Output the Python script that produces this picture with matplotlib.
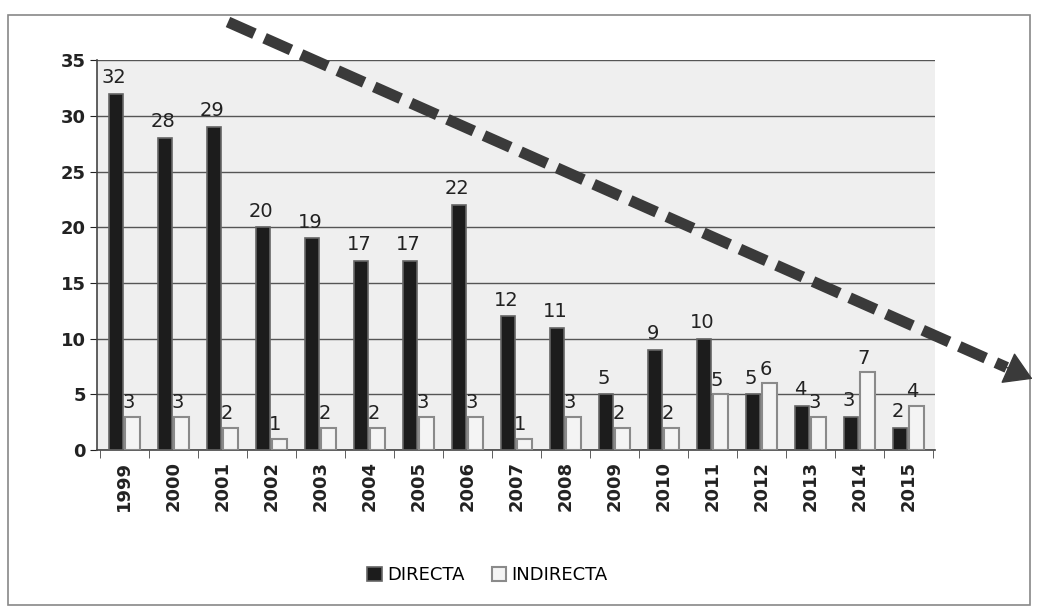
import matplotlib
matplotlib.use("Agg")
import matplotlib.pyplot as plt
import numpy as np
from matplotlib.patches import Rectangle, FancyArrowPatch
from matplotlib.lines import Line2D

years = [str(y) for y in range(1999, 2016)]
directa = [32, 28, 29, 20, 19, 17, 17, 22, 12, 11, 5, 9, 10, 5, 4, 3, 2]
indirecta = [3, 3, 2, 1, 2, 2, 3, 3, 1, 3, 2, 2, 5, 6, 3, 7, 4]

fig = plt.figure(figsize=(10.37, 6.14), dpi=100)
fig.patch.set_facecolor("white")
# outer frame
fig.add_artist(Rectangle((0.008, 0.015), 0.985, 0.96, transform=fig.transFigure,
                         fill=False, edgecolor="#888888", lw=1.2))

ax = fig.add_axes([0.094, 0.267, 0.808, 0.635])
ax.set_facecolor("#efefef")
x = np.arange(len(years))
w = 0.3
b1 = ax.bar(x - w / 2 - 0.02, directa, w, color="#1c1c1c", edgecolor="#666666", lw=1.2,
            label="DIRECTA", zorder=3)
b2 = ax.bar(x + w / 2 + 0.02, indirecta, w, color="#f4f4f4", edgecolor="#8a8a8a", lw=1.5,
            label="INDIRECTA", zorder=3)
for xi, v in zip(x, directa):
    ax.text(xi - w / 2 - 0.06, v + 0.6, str(v), ha="center", va="bottom",
            fontsize=14, color="#222222", zorder=4)
for xi, v in zip(x, indirecta):
    ax.text(xi + 0.08, v + 0.4, str(v), ha="center", va="bottom",
            fontsize=14, color="#222222", zorder=4)

ax.set_ylim(0, 35)
ax.set_xlim(-0.55, len(years) - 0.45)
ax.set_yticks(range(0, 36, 5))
ax.yaxis.grid(True, color="#555555", lw=1.0, zorder=0)
ax.set_axisbelow(True)
ax.set_xticks(x)
ax.set_xticklabels(years, rotation=90, fontsize=13, fontweight="bold", color="#222222")
ax.tick_params(axis="y", labelsize=13, colors="#222222", length=5)
ax.tick_params(axis="x", length=0, pad=8)
for lbl in ax.get_yticklabels():
    lbl.set_fontweight("bold")
for s in ["top", "right"]:
    ax.spines[s].set_visible(False)
ax.spines["left"].set_color("#444444")
ax.spines["bottom"].set_color("#444444")
ax.spines["left"].set_linewidth(1.2)
ax.spines["bottom"].set_linewidth(1.2)
ax.set_xticks(np.arange(-0.5, len(years), 1), minor=True)
ax.tick_params(axis="x", which="minor", length=6, color="#444444")

fig.legend(handles=[b1, b2], labels=["DIRECTA", "INDIRECTA"], loc="center",
           bbox_to_anchor=(0.47, 0.063), ncol=2, frameon=False, fontsize=13,
           handlelength=0.8, handleheight=0.8, columnspacing=1.5, handletextpad=0.3)

# dashed trend arrow: dashed shaft + solid head
x0, y0 = 228, 22
x1, y1 = 1035, 380
xm, ym = x0 + (x1 - x0) * 0.965, y0 + (y1 - y0) * 0.965
fig.add_artist(Line2D([x0 / 1037, xm / 1037], [1 - y0 / 614, 1 - ym / 614],
                      transform=fig.transFigure, color="#3a3a3a", lw=8,
                      dashes=(2.6, 1.0), solid_capstyle="butt", dash_capstyle="butt"))
fig.add_artist(FancyArrowPatch(
    (xm / 1037 - 0.01, 1 - ym / 614 + 0.0074), (x1 / 1037, 1 - y1 / 614),
    transform=fig.transFigure, arrowstyle="-|>,head_length=0.9,head_width=0.55",
    mutation_scale=20, color="#3a3a3a", lw=1))

fig.savefig("out.png", dpi=100)
